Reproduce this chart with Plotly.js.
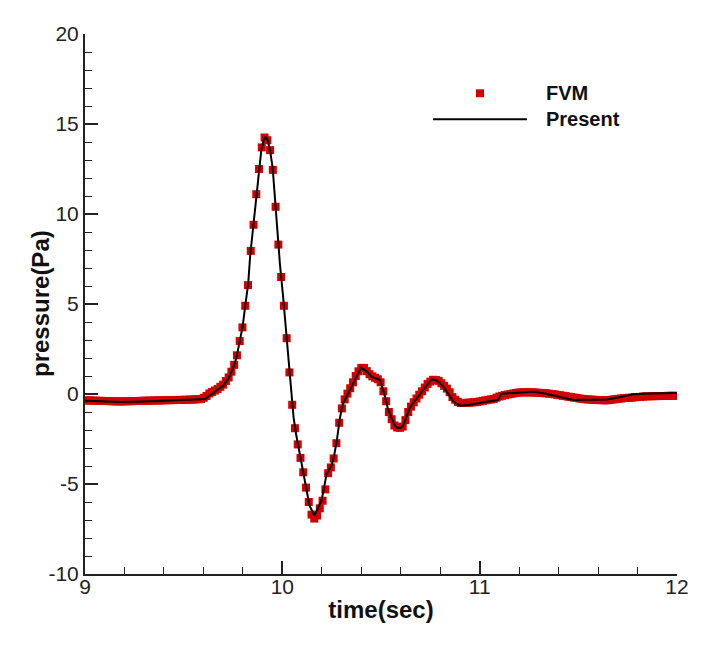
<!DOCTYPE html>
<html>
<head>
<meta charset="utf-8">
<script src="https://cdn.plot.ly/plotly-3.0.1.min.js"></script>
<style>
  html, body { margin: 0; padding: 0; background: #fff; }
  #chart { width: 719px; height: 647px; }
</style>
</head>
<body>
<div id="chart"></div>
<script>
// FVM samples: uniform time step starting at 9 s
const fvmStart = 9.0;
const fvmStep = 0.014;
const fvmPressure = [
  -0.35, -0.36, -0.36, -0.37, -0.37, -0.38, -0.38, -0.39, -0.39, -0.40,
  -0.40, -0.41, -0.41, -0.41, -0.41, -0.40, -0.40, -0.40, -0.39, -0.39,
  -0.38, -0.38, -0.37, -0.37, -0.37, -0.36, -0.36, -0.36, -0.35, -0.35,
  -0.34, -0.34, -0.34, -0.33, -0.33, -0.33, -0.32, -0.32, -0.31, -0.31,
  -0.30, -0.29, -0.28, -0.21, -0.11, 0.03, 0.11, 0.19, 0.28, 0.40,
  0.52, 0.72, 0.92, 1.24, 1.62, 2.15, 2.94, 3.70, 4.90, 6.05,
  7.95, 9.40, 11.10, 12.50, 13.70, 14.25, 14.10, 13.55, 12.45, 10.40,
  8.30, 6.50, 4.90, 3.10, 1.20, -0.60, -1.90, -2.80, -3.55, -4.35,
  -5.20, -6.00, -6.70, -6.92, -6.75, -6.35, -5.93, -5.30, -4.40, -4.08,
  -3.58, -2.73, -1.60, -0.80, -0.30, 0.02, 0.32, 0.65, 1.00, 1.26,
  1.45, 1.45, 1.27, 1.10, 0.98, 0.90, 0.82, 0.65, 0.15, -0.40,
  -1.00, -1.40, -1.75, -1.86, -1.88, -1.81, -1.45, -1.00, -0.70, -0.46,
  -0.25, -0.04, 0.15, 0.36, 0.56, 0.69, 0.79, 0.78, 0.73, 0.60,
  0.45, 0.30, 0.10, -0.17, -0.32, -0.44, -0.50, -0.50, -0.49, -0.48,
  -0.47, -0.46, -0.44, -0.41, -0.38, -0.35, -0.32, -0.30, -0.27, -0.20,
  -0.14, -0.10, -0.06, -0.03, 0.00, 0.03, 0.06, 0.08, 0.09, 0.09,
  0.09, 0.09, 0.09, 0.08, 0.07, 0.06, 0.05, 0.04, 0.02, 0.00,
  -0.02, -0.05, -0.07, -0.10, -0.12, -0.15, -0.17, -0.20, -0.22, -0.25,
  -0.27, -0.29, -0.30, -0.31, -0.32, -0.33, -0.34, -0.34, -0.35, -0.35,
  -0.33, -0.31, -0.29, -0.27, -0.25, -0.23, -0.22, -0.21, -0.20, -0.18,
  -0.17, -0.16, -0.14, -0.13, -0.13, -0.12, -0.12, -0.12, -0.11, -0.11,
  -0.11, -0.10, -0.10, -0.10, -0.10
];
const fvmTime = fvmPressure.map((_, i) => +(fvmStart + i * fvmStep).toFixed(3));

// Present solution (black line)
const presentTime = [
  9.00, 9.10, 9.18, 9.30, 9.40, 9.48, 9.55, 9.61, 9.633, 9.65,
  9.667, 9.70, 9.726, 9.751, 9.768, 9.782, 9.799, 9.812, 9.827, 9.837,
  9.853, 9.866, 9.881, 9.893, 9.905, 9.915, 9.925, 9.937, 9.951, 9.962,
  9.976, 9.988, 10.003, 10.017, 10.031, 10.044, 10.057, 10.07, 10.083, 10.097,
  10.11, 10.124, 10.138, 10.162, 10.18, 10.199, 10.21, 10.224, 10.25, 10.262,
  10.276, 10.29, 10.305, 10.32, 10.334, 10.35, 10.376, 10.40, 10.427, 10.452,
  10.478, 10.495, 10.505, 10.52, 10.536, 10.554, 10.57, 10.585, 10.60, 10.612,
  10.63, 10.646, 10.663, 10.688, 10.714, 10.739, 10.756, 10.775, 10.80, 10.82,
  10.84, 10.866, 10.90, 10.95, 11.0, 11.05, 11.094, 11.11, 11.2, 11.271,
  11.33, 11.39, 11.474, 11.55, 11.643, 11.72, 11.78, 11.88, 12.0
];
const presentPressure = [
  -0.37, -0.42, -0.44, -0.41, -0.38, -0.36, -0.33, -0.28, -0.06, 0.04,
  0.22, 0.45, 0.85, 1.44, 2.05, 2.83, 3.76, 4.90, 6.13, 7.68,
  9.30, 10.90, 12.40, 13.50, 14.10, 14.30, 14.10, 13.60, 12.57, 10.96,
  8.90, 7.18, 5.52, 3.79, 1.85, 0.11, -1.30, -2.25, -3.05, -3.80,
  -4.55, -5.40, -6.20, -6.75, -6.35, -5.90, -5.30, -4.45, -3.95, -3.45,
  -2.60, -1.45, -0.60, -0.25, 0.05, 0.42, 0.98, 1.45, 1.26, 0.95,
  0.85, 0.78, 0.42, -0.13, -0.87, -1.35, -1.75, -1.89, -1.88, -1.75,
  -1.24, -0.78, -0.50, -0.13, 0.24, 0.60, 0.82, 0.78, 0.60, 0.35,
  0.05, -0.41, -0.65, -0.60, -0.50, -0.40, -0.32, 0.02, 0.08, 0.12,
  0.03, -0.13, -0.33, -0.32, -0.30, -0.15, -0.02, 0.03, 0.05
];

const xTickVals = [9, 10, 11, 12];
const xTickText = ['9', '10', '11', '12'];
const yTickVals = [-10, -5, 0, 5, 10, 15, 20];
const yTickText = ['-10', '-5', '0', '5', '10', '15', '20'];

const font = 'Liberation Sans, Arial, sans-serif';
const axisColor = '#222';

const traces = [
  {
    x: fvmTime, y: fvmPressure,
    type: 'scatter', mode: 'markers', name: 'FVM',
    marker: { symbol: 'square', size: 8, color: '#d40000' }
  },
  {
    x: presentTime, y: presentPressure,
    type: 'scatter', mode: 'lines', name: 'Present',
    line: { color: '#000', width: 2 }
  }
];

const commonAxis = {
  showgrid: false, zeroline: false, showline: true,
  linecolor: axisColor, linewidth: 2,
  ticks: 'inside', ticklen: 13, tickwidth: 2, tickcolor: axisColor,
  tickfont: { family: font, size: 21, color: '#222' },
  tickmode: 'array'
};

const layout = {
  width: 719, height: 647,
  margin: { l: 85, r: 42, t: 34, b: 73 },
  paper_bgcolor: '#fff', plot_bgcolor: '#fff',
  showlegend: false,
  font: { family: font, color: '#111' },
  xaxis: {
    ...commonAxis,
    range: [9, 12],
    tickvals: xTickVals, ticktext: xTickText,
    ticklabelstandoff: -7,
    minor: { dtick: 0.2, ticks: 'inside', ticklen: 7, tickwidth: 1, tickcolor: axisColor },
    title: { text: '<b>time(sec)</b>', font: { family: font, size: 24, color: '#111' }, standoff: 4 }
  },
  yaxis: {
    ...commonAxis,
    range: [-10, 20],
    tickvals: yTickVals, ticktext: yTickText,
    ticklabelstandoff: 0,
    minor: { dtick: 1, ticks: 'inside', ticklen: 7, tickwidth: 1, tickcolor: axisColor }
  },
  // legend drawn by hand to get the long line sample
  shapes: [
    { type: 'rect', xref: 'paper', yref: 'paper', x0: 0.6605, x1: 0.674, y0: 0.8828, y1: 0.8976,
      fillcolor: '#d40000', line: { width: 0 } },
    { type: 'line', xref: 'paper', yref: 'paper', x0: 0.5878, x1: 0.7466, y0: 0.842, y1: 0.842,
      line: { color: '#000', width: 2 } }
  ],
  annotations: [
    { xref: 'paper', yref: 'paper', x: -0.076, y: 0.5, xanchor: 'center', yanchor: 'middle',
      textangle: -90, text: '<b>pressure(Pa)</b>', showarrow: false,
      font: { family: font, size: 24, color: '#111' } },
    { xref: 'paper', yref: 'paper', x: 0.7753, y: 0.8907, xanchor: 'left', yanchor: 'middle',
      text: '<b>FVM</b>', showarrow: false, font: { family: font, size: 20, color: '#111' } },
    { xref: 'paper', yref: 'paper', x: 0.7753, y: 0.842, xanchor: 'left', yanchor: 'middle',
      text: '<b>Present</b>', showarrow: false, font: { family: font, size: 20, color: '#111' } }
  ]
};

Plotly.newPlot('chart', traces, layout, { displayModeBar: false, staticPlot: true });
</script>
</body>
</html>
